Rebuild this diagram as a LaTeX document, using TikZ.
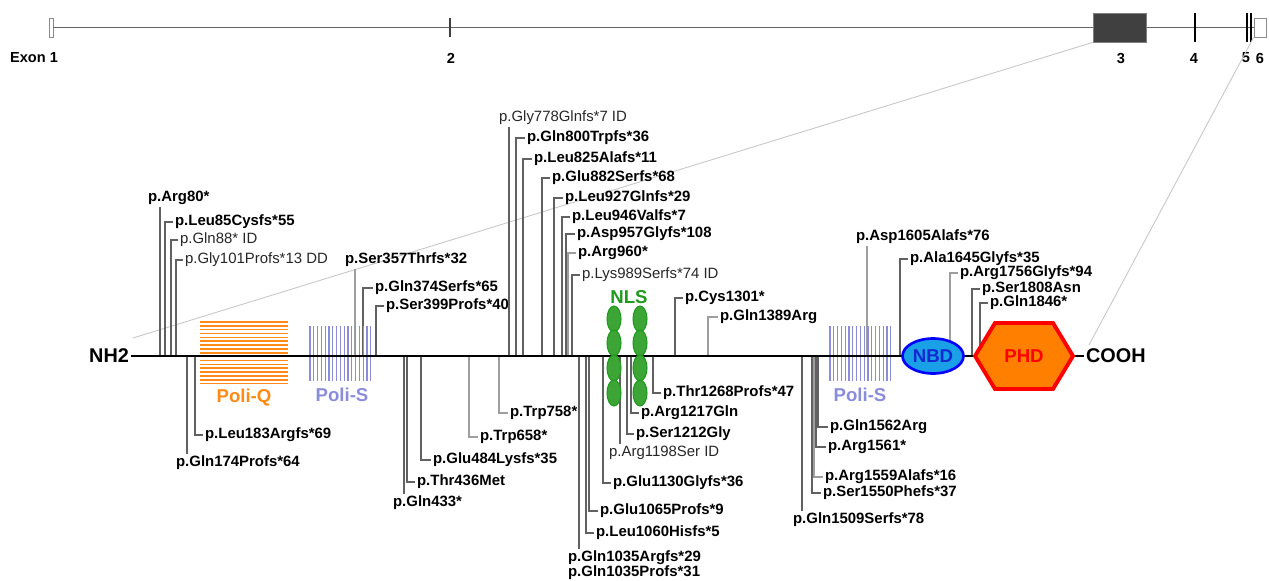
\documentclass[tikz,border=0pt]{standalone}
\usepackage{fontspec}
\setmainfont{Liberation Sans}
\usepackage{xcolor}
\definecolor{poliorange}{HTML}{FF8A14}
\definecolor{polililac}{HTML}{8C8CDC}
\definecolor{nlsgreen}{HTML}{1E9A1E}
\definecolor{beadgreen}{HTML}{3DA535}
\definecolor{nbdfill}{HTML}{1AA0E6}
\definecolor{nbdtext}{HTML}{1428D2}
\definecolor{phdfill}{HTML}{FF8000}
\definecolor{exongray}{HTML}{404040}
\usepackage{tikz}
\usetikzlibrary{shapes.geometric,positioning}

\begin{document}
\begin{tikzpicture}[
        x=0.02cm, y=-0.02cm,
        mut/.style={font=\fontsize{8.5}{8.6}\selectfont\bfseries, inner sep=1pt, anchor=west, align=left},
        mutid/.style={mut, font=\fontsize{8.5}{8.6}\selectfont, text=black!85},
        lead/.style={draw=black!62, line width=0.6pt},
        leadlt/.style={draw=black!38, line width=0.6pt},
        term/.style={font=\fontsize{11.3}{13}\selectfont\bfseries, inner sep=1pt},
        domlabel/.style={font=\fontsize{10.6}{12}\selectfont\bfseries, inner sep=1pt},
        exonlab/.style={font=\fontsize{8.3}{10}\selectfont\bfseries, inner sep=1pt},
        exonopen/.style={rectangle, draw=black!45, fill=white, line width=0.5pt, inner sep=0pt},
        exonbox/.style={rectangle, draw=black!50, fill=exongray, line width=0.5pt, inner sep=0pt},
        exontick/.style={rectangle, fill=black!75, minimum width=0.03cm, inner sep=0pt},
        gene/.style={draw=black!60, line width=0.6pt},
        zoomline/.style={draw=black!22, line width=0.5pt},
        prot/.style={draw=black, line width=1.6pt},
        nlsbead/.style={ellipse, draw=nlsgreen, fill=beadgreen, line width=0.6pt, minimum width=0.28cm, minimum height=0.52cm, inner sep=0pt},
        nbdbox/.style={ellipse, draw=blue, fill=nbdfill, line width=1.5pt, minimum width=1.22cm, minimum height=0.7cm, inner sep=0pt}
    ]
        \useasboundingbox (0,0) rectangle (1269,581);

        % Gene structure
        \node[exonopen, minimum width=0.08cm, minimum height=0.38cm] (ex1) at (51,27.5) {};
        \node[exonopen, minimum width=0.24cm, minimum height=0.38cm] (ex6) at (1260,27.5) {};
        \draw[gene] (ex1.east) -- (ex6.west);
        \node[exontick, minimum height=0.4cm] (ex2) at (450,27.5) {};
        \node[exonbox, minimum width=1.06cm, minimum height=0.58cm] (ex3) at (1119.5,27.5) {};
        \node[exontick, fill=black, minimum height=0.58cm] (ex4) at (1195,27.5) {};
        \node[exontick, fill=black, minimum height=0.58cm] (ex5a) at (1247,27.5) {};
        \node[exontick, fill=black, minimum height=0.58cm] (ex5b) at (1251,27.5) {};

        \node[exonlab] (lab1) at (34,58) {Exon 1};
        \node[exonlab] (lab2) at (451,58) {2};
        \node[exonlab] (lab3) at (1121,58) {3};
        \node[exonlab] (lab4) at (1194,58) {4};
        \node[exonlab] (lab5) at (1246,58) {5};
        \node[exonlab] (lab6) at (1260,58) {6};

        % Zoom from exon 3-6 to the protein
        \coordinate (zl) at (133,338);
        \coordinate (zr) at (1089,345);
        \draw[zoomline] (ex3.south west) -- (zl);
        \draw[zoomline] (ex6.south west) -- (zr);

        % Ends of the protein
        \node[term, anchor=east] (nh2) at (131,356) {NH2};
        \node[term, anchor=west] (cooh) at (1084,356) {COOH};

        % Mutations above the line
        \coordinate (arg80p) at (160,356);   \node[mut] (arg80) at (146,198) {p.Arg80*};
        \coordinate (leu85p) at (165,356);   \node[mut] (leu85) at (173,222) {p.Leu85Cysfs*55};
        \coordinate (gln88p) at (171,356);   \node[mutid] (gln88) at (178,240) {p.Gln88* ID};
        \coordinate (gly101p) at (176,356);  \node[mutid] (gly101) at (183,260) {p.Gly101Profs*13 DD};
        \coordinate (ser357p) at (355,356);  \node[mut] (ser357) at (343,260) {p.Ser357Thrfs*32};
        \coordinate (gln374p) at (363,356);  \node[mut] (gln374) at (373,288) {p.Gln374Serfs*65};
        \coordinate (ser399p) at (376,356);  \node[mut] (ser399) at (384,306) {p.Ser399Profs*40};
        \coordinate (gly778p) at (509,356);  \node[mutid] (gly778) at (497,118) {p.Gly778Glnfs*7 ID};
        \coordinate (gln800p) at (516,356);  \node[mut] (gln800) at (525,138) {p.Gln800Trpfs*36};
        \coordinate (leu825p) at (523,356);  \node[mut] (leu825) at (532,159) {p.Leu825Alafs*11};
        \coordinate (glu882p) at (542,356);  \node[mut] (glu882) at (550,178) {p.Glu882Serfs*68};
        \coordinate (leu927p) at (554,356);  \node[mut] (leu927) at (563,198) {p.Leu927Glnfs*29};
        \coordinate (leu946p) at (562,356);  \node[mut] (leu946) at (570,217) {p.Leu946Valfs*7};
        \coordinate (asp957p) at (566,356);  \node[mut] (asp957) at (575,234) {p.Asp957Glyfs*108};
        \coordinate (arg960p) at (568,356);  \node[mut] (arg960) at (576,253) {p.Arg960*};
        \coordinate (lys989p) at (572,356);  \node[mutid] (lys989) at (580,275) {p.Lys989Serfs*74 ID};
        \coordinate (cys1301p) at (675,356); \node[mut] (cys1301) at (683,298) {p.Cys1301*};
        \coordinate (gln1389p) at (708,356); \node[mut] (gln1389) at (718,317) {p.Gln1389Arg};
        \coordinate (asp1605p) at (867,356); \node[mut] (asp1605) at (854,237) {p.Asp1605Alafs*76};
        \coordinate (ala1645p) at (900,356); \node[mut] (ala1645) at (908,259) {p.Ala1645Glyfs*35};
        \coordinate (arg1756p) at (950,356); \node[mut] (arg1756) at (958,273) {p.Arg1756Glyfs*94};
        \coordinate (ser1808p) at (972,356); \node[mut] (ser1808) at (980,289) {p.Ser1808Asn};
        \coordinate (gln1846p) at (980,356); \node[mut] (gln1846) at (988,303) {p.Gln1846*};

        % Mutations below the line
        \coordinate (gln174p) at (187,356);  \node[mut] (gln174) at (174,463) {p.Gln174Profs*64};
        \coordinate (leu183p) at (195,356);  \node[mut] (leu183) at (203,435) {p.Leu183Argfs*69};
        \coordinate (gln433p) at (404,356);  \node[mut] (gln433) at (391,503) {p.Gln433*};
        \coordinate (thr436p) at (407,356);  \node[mut] (thr436) at (415,482) {p.Thr436Met};
        \coordinate (glu484p) at (421,356);  \node[mut] (glu484) at (431,460) {p.Glu484Lysfs*35};
        \coordinate (trp658p) at (469,356);  \node[mut] (trp658) at (478,437) {p.Trp658*};
        \coordinate (trp758p) at (499,356);  \node[mut] (trp758) at (508,413) {p.Trp758*};
        \coordinate (gln1035p) at (579,356); \node[mut] (gln1035) at (566,565.5) {p.Gln1035Argfs*29\\p.Gln1035Profs*31};
        \coordinate (leu1060p) at (586,356); \node[mut] (leu1060) at (594,533) {p.Leu1060Hisfs*5};
        \coordinate (glu1065p) at (589,356); \node[mut] (glu1065) at (598,511) {p.Glu1065Profs*9};
        \coordinate (glu1130p) at (603,356); \node[mut] (glu1130) at (611,483) {p.Glu1130Glyfs*36};
        \coordinate (arg1198p) at (620,356); \node[mutid] (arg1198) at (607,453) {p.Arg1198Ser ID};
        \coordinate (ser1212p) at (627,356); \node[mut] (ser1212) at (634,434) {p.Ser1212Gly};
        \coordinate (arg1217p) at (631,356); \node[mut] (arg1217) at (639,413) {p.Arg1217Gln};
        \coordinate (thr1268p) at (653,356); \node[mut] (thr1268) at (661,393) {p.Thr1268Profs*47};
        \coordinate (gln1509p) at (802,356); \node[mut] (gln1509) at (791,520) {p.Gln1509Serfs*78};
        \coordinate (ser1550p) at (812,356); \node[mut] (ser1550) at (821,493) {p.Ser1550Phefs*37};
        \coordinate (arg1559p) at (814,356); \node[mut] (arg1559) at (823,477) {p.Arg1559Alafs*16};
        \coordinate (arg1561p) at (816,356); \node[mut] (arg1561) at (826,447) {p.Arg1561*};
        \coordinate (gln1562p) at (818,356); \node[mut] (gln1562) at (828,427) {p.Gln1562Arg};

        % Leader lines
        \draw[lead] (arg80p) -- (arg80p |- arg80.south);
        \draw[lead] (leu85p) |- (leu85.west);
        \draw[lead] (gln88p) |- (gln88.west);
        \draw[lead] (gly101p) |- (gly101.west);
        \draw[leadlt] (ser357p) -- (ser357p |- ser357.south);
        \draw[lead] (gln374p) |- (gln374.west);
        \draw[lead] (ser399p) |- (ser399.west);
        \draw[lead] (gly778p) -- (gly778p |- gly778.south);
        \draw[lead] (gln800p) |- (gln800.west);
        \draw[lead] (leu825p) |- (leu825.west);
        \draw[lead] (glu882p) |- (glu882.west);
        \draw[lead] (leu927p) |- (leu927.west);
        \draw[lead] (leu946p) |- (leu946.west);
        \draw[lead] (asp957p) |- (asp957.west);
        \draw[leadlt] (arg960p) |- (arg960.west);
        \draw[lead] (lys989p) |- (lys989.west);
        \draw[lead] (cys1301p) |- (cys1301.west);
        \draw[leadlt] (gln1389p) |- (gln1389.west);
        \draw[leadlt] (asp1605p) -- (asp1605p |- asp1605.south);
        \draw[lead] (ala1645p) |- (ala1645.west);
        \draw[leadlt] (arg1756p) |- (arg1756.west);
        \draw[lead] (ser1808p) |- (ser1808.west);
        \draw[lead] (gln1846p) |- (gln1846.west);

        \draw[lead] (gln174p) -- (gln174p |- gln174.north);
        \draw[lead] (leu183p) |- (leu183.west);
        \draw[lead] (gln433p) -- (gln433p |- gln433.north);
        \draw[lead] (thr436p) |- (thr436.west);
        \draw[lead] (glu484p) |- (glu484.west);
        \draw[leadlt] (trp658p) |- (trp658.west);
        \draw[leadlt] (trp758p) |- (trp758.west);
        \draw[lead] (gln1035p) -- (gln1035p |- gln1035.north);
        \draw[lead] (leu1060p) |- (leu1060.west);
        \draw[lead] (glu1065p) |- (glu1065.west);
        \draw[lead] (glu1130p) |- (glu1130.west);
        \draw[lead] (arg1198p) -- (arg1198p |- arg1198.north);
        \draw[lead] (ser1212p) |- (ser1212.west);
        \draw[lead] (arg1217p) |- (arg1217.west);
        \draw[lead] (thr1268p) |- (thr1268.west);
        \draw[lead] (gln1509p) -- (gln1509p |- gln1509.north);
        \draw[lead] (ser1550p) |- (ser1550.west);
        \draw[leadlt] (arg1559p) |- (arg1559.west);
        \draw[lead] (arg1561p) |- (arg1561.west);
        \draw[lead] (gln1562p) |- (gln1562.west);

        % Poli-Q and Poli-S stretches
        \foreach \k in {0,...,16}
            \draw[poliorange, line width=0.9pt] (200,322+\k*3.85) -- (288,322+\k*3.85);
        \foreach \k in {0,...,16} {
            \draw[polililac, line width=0.7pt] (310+\k*3.8,326) -- (310+\k*3.8,381);
            \draw[polililac, line width=0.7pt] (830+\k*3.8,326) -- (830+\k*3.8,381);
        }
        \node[domlabel, text=poliorange] (poliq) at (244,398) {Poli-Q};
        \node[domlabel, text=polililac] (polis1) at (342,395) {Poli-S};
        \node[domlabel, text=polililac] (polis2) at (860,395) {Poli-S};

        % Protein line
        \draw[prot] (nh2.east) -- (cooh.west);

        % NLS
        \foreach \y [count=\i] in {319,343,368,393} {
            \node[nlsbead] (nlsa\i) at (614,\y) {};
            \node[nlsbead] (nlsb\i) at (640,\y) {};
        }
        \node[domlabel, text=nlsgreen] (nls) at (629,297) {NLS};

        % NBD and PHD
        \node[nbdbox, text=nbdtext, font=\fontsize{10.6}{12}\selectfont\bfseries] (nbd) at (933,356) {NBD};
        \draw[draw=red, fill=phdfill, line width=2.2pt, line join=miter]
            (975,356) -- (995,323) -- (1053,323) -- (1073,356) -- (1053,389) -- (995,389) -- cycle;
        \node[domlabel, text=red] (phd) at (1024,356) {PHD};

    \end{tikzpicture}
\end{document}
